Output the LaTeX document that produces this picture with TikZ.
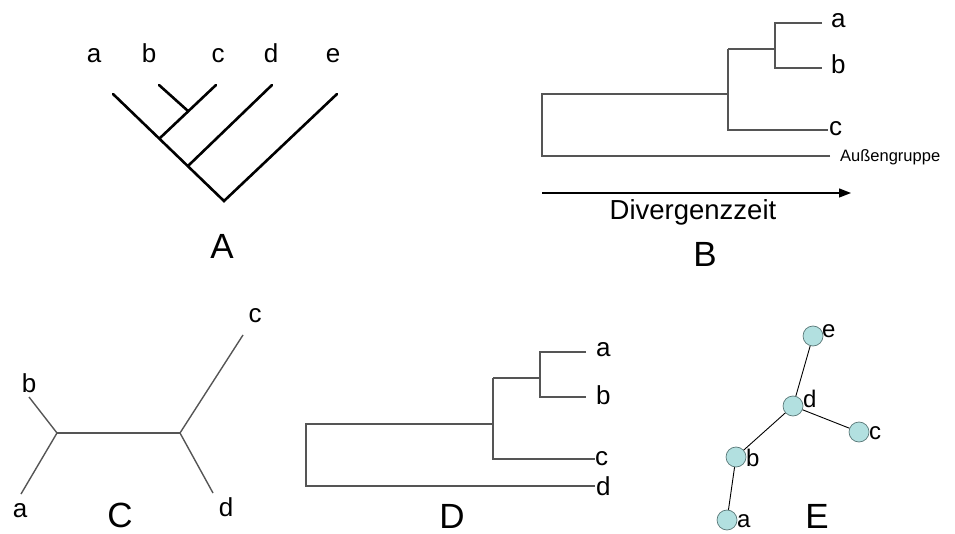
\documentclass[tikz,border=0pt]{standalone}
\usepackage{fontspec}
\setmainfont{Liberation Sans}
\usetikzlibrary{arrows.meta}
\definecolor{nodefill}{RGB}{178,224,224}
\definecolor{nodeedge}{RGB}{90,120,120}
\definecolor{linegray}{RGB}{85,85,85}
\tikzset{
  lbl/.style={inner sep=0pt,font=\fontsize{26}{26}\selectfont},
  biglbl/.style={inner sep=0pt,font=\fontsize{35}{35}\selectfont},
  smalllbl/.style={inner sep=0pt,font=\fontsize{16.5}{16.5}\selectfont},
  elbl/.style={inner sep=0pt,font=\fontsize{24}{24}\selectfont},
  thickbr/.style={line width=2.6pt,line cap=round},
  thinbr/.style={line width=1.4pt,draw=linegray},
  ball/.style={circle,fill=nodefill,draw=nodeedge,line width=0.7pt,minimum size=20pt,inner sep=0pt},
}
\begin{document}
\begin{tikzpicture}[x=1pt,y=-1pt]
\useasboundingbox (0,0) rectangle (955,534);
% ---------- Panel A ----------
\coordinate (Aroot) at (224,201);
\coordinate (Aa) at (113,94);
\coordinate (Ae) at (337,94);
\coordinate (Ad) at (272,85);
\coordinate (Ac) at (216,85);
\coordinate (Ab) at (159,85);
\coordinate (Ajd) at (189,165);
\coordinate (Ajc) at (160,138);
\coordinate (Ajb) at (188,111);
\draw[thickbr] (Aa) -- (Aroot) -- (Ae);
\draw[thickbr] (Ajd) -- (Ad);
\draw[thickbr] (Ajc) -- (Ac);
\draw[thickbr] (Ajb) -- (Ab);
\node[lbl] (Ala) at (94,56) {a};
\node[lbl] (Alb) at (149,53) {b};
\node[lbl] (Alc) at (218,56) {c};
\node[lbl] (Ald) at (271,53) {d};
\node[lbl] (Ale) at (333,56) {e};
\node[biglbl] (Atitle) at (222,246) {A};
% ---------- Panel B ----------
\coordinate (Br) at (542,94);
\coordinate (Bo) at (542,156);
\coordinate (Bi1) at (728,94);
\coordinate (Bi1t) at (728,49);
\coordinate (Bi1b) at (728,130);
\coordinate (Bc) at (828,130);
\coordinate (Bi2) at (775,49);
\coordinate (Bi2t) at (775,23);
\coordinate (Bi2b) at (775,68);
\coordinate (Ba) at (822,23);
\coordinate (Bb) at (822,68);
\coordinate (Bout) at (830,156);
\draw[thinbr] (Bout) -- (Bo) -- (Br) -- (Bi1);
\draw[thinbr] (Bi1t) -- (Bi1b) -- (Bc);
\draw[thinbr] (Bi1t) -- (Bi2);
\draw[thinbr] (Ba) -- (Bi2t) -- (Bi2b) -- (Bb);
\node[lbl,anchor=west] (Bla) at (831,21) {a};
\node[lbl,anchor=west] (Blb) at (831,64) {b};
\node[lbl,anchor=west] (Blc) at (829,129) {c};
\node[smalllbl,anchor=west] (Blo) at (840,157) {Außengruppe};
\coordinate (Barr1) at (542,193);
\coordinate (Barr2) at (851,193);
\draw[line width=1.3pt,-{Triangle[length=12pt,width=9pt]}] (Barr1) -- (Barr2);
\node[inner sep=0pt,font=\fontsize{27.5}{27.5}\selectfont] (Bdiv) at (693,212) {Divergenzzeit};
\node[biglbl] (Btitle) at (705,254) {B};
% ---------- Panel C ----------
\coordinate (Cl) at (57,433);
\coordinate (Cr) at (180,433);
\coordinate (Cb) at (29,397);
\coordinate (Ca) at (21,494);
\coordinate (Cc) at (243,335);
\coordinate (Cd) at (213,493);
\draw[thinbr] (Cb) -- (Cl) -- (Ca);
\draw[thinbr] (Cl) -- (Cr);
\draw[thinbr] (Cc) -- (Cr) -- (Cd);
\node[lbl] (Clb) at (29,383) {b};
\node[lbl] (Cla) at (20,511) {a};
\node[lbl] (Clc) at (255,316) {c};
\node[lbl] (Cld) at (226,507) {d};
\node[biglbl] (Ctitle) at (120,515) {C};
% ---------- Panel D ----------
\coordinate (Dr) at (306,424);
\coordinate (Do) at (306,486);
\coordinate (Di1) at (493,424);
\coordinate (Di1t) at (493,378);
\coordinate (Di1b) at (493,459);
\coordinate (Dc) at (595,459);
\coordinate (Di2) at (540,378);
\coordinate (Di2t) at (540,352);
\coordinate (Di2b) at (540,397);
\coordinate (Da) at (586,352);
\coordinate (Db) at (586,397);
\coordinate (Dd) at (595,486);
\draw[thinbr] (Dd) -- (Do) -- (Dr) -- (Di1);
\draw[thinbr] (Di1t) -- (Di1b) -- (Dc);
\draw[thinbr] (Di1t) -- (Di2);
\draw[thinbr] (Da) -- (Di2t) -- (Di2b) -- (Db);
\node[lbl,anchor=west] (Dla) at (596,350) {a};
\node[lbl,anchor=west] (Dlb) at (596,395) {b};
\node[lbl,anchor=west] (Dlc) at (595,459) {c};
\node[lbl,anchor=west] (Dld) at (596,486) {d};
\node[biglbl] (Dtitle) at (452,516) {D};
% ---------- Panel E ----------
\node[ball] (Ee) at (813,336) {};
\node[ball] (Ed) at (793,406) {};
\node[ball] (Ec) at (859,432) {};
\node[ball] (Eb) at (736,457) {};
\node[ball] (Ea) at (727,520) {};
\draw[line width=0.9pt] (Ee) -- (Ed);
\draw[line width=0.9pt] (Ed) -- (Ec);
\draw[line width=0.9pt] (Ed) -- (Eb);
\draw[line width=0.9pt] (Eb) -- (Ea);
\node[elbl,anchor=west] (Ele) at (822,331) {e};
\node[elbl,anchor=west] (Eld) at (803,399) {d};
\node[elbl,anchor=west] (Elc) at (869,433) {c};
\node[elbl,anchor=west] (Elb) at (746,458) {b};
\node[elbl,anchor=west] (Ela) at (737,521) {a};
\node[biglbl] (Etitle) at (817,516) {E};
\end{tikzpicture}
\end{document}
